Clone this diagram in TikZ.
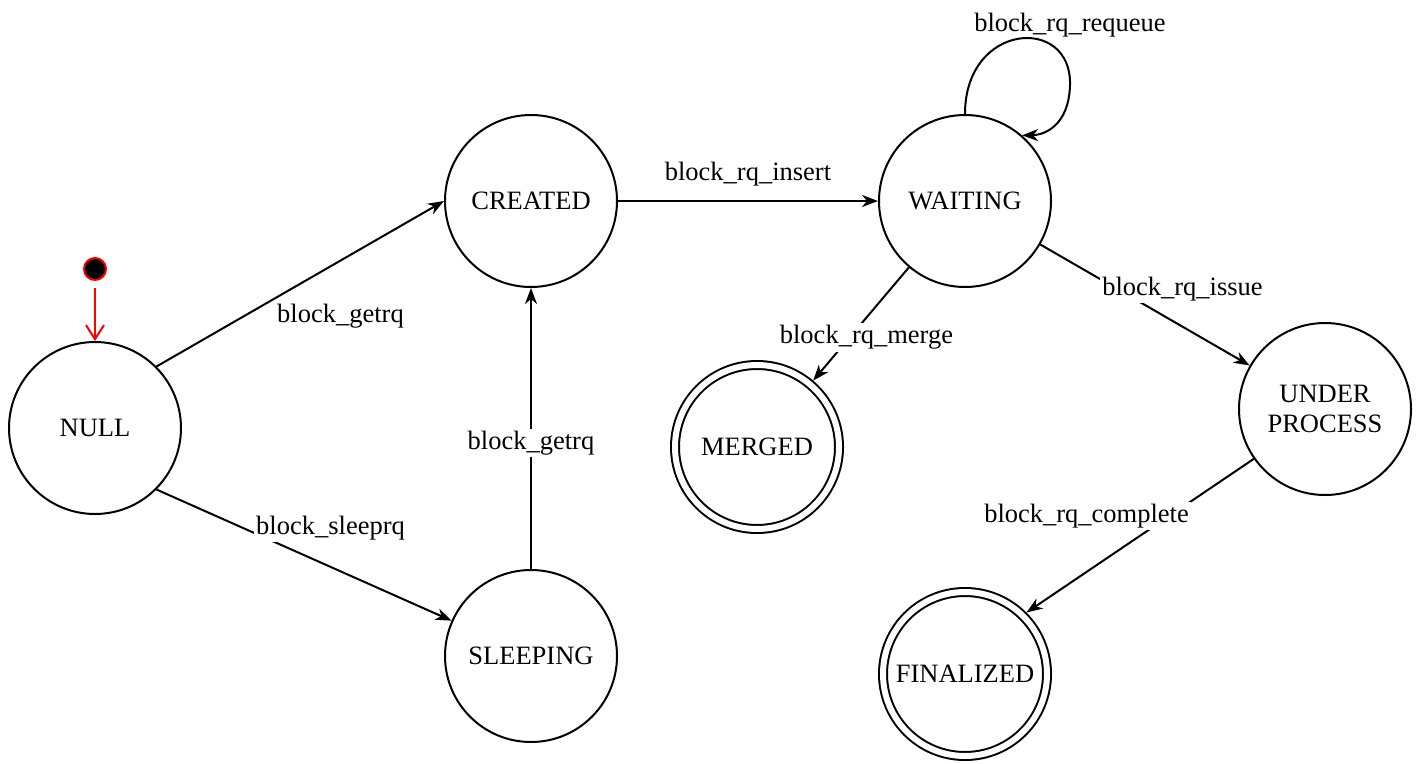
\documentclass[tikz,border=0pt]{standalone}
\usepackage{fontspec}
\setmainfont{Liberation Serif}
\usetikzlibrary{arrows.meta}

\begin{document}
\begin{tikzpicture}[x=1pt, y=-1pt,
  state/.style={circle, draw, line width=2pt, minimum size=172pt, inner sep=0pt,
    align=center, font=\fontsize{26.5}{30}\selectfont},
  final/.style={state, double, double distance=6pt, minimum size=164pt, outer sep=5pt},
  initdot/.style={circle, fill=black, draw=red, line width=2pt, minimum size=22pt, inner sep=0pt},
  trans/.style={line width=2pt, -{Stealth[length=16pt, width=12pt, inset=5pt]}},
  initarrow/.style={line width=2pt, red, -{Straight Barb[length=14pt, width=18pt]}},
  lbl/.style={fill=white, inner sep=2pt, font=\fontsize{26.5}{30}\selectfont},
]
  \useasboundingbox[fill=white] (0,0) rectangle (1418,763);

  % states
  \node[initdot] (init) at (95,269) {};
  \node[state] (null) at (95,428) {NULL};
  \node[state] (created) at (531,201) {CREATED};
  \node[state] (sleeping) at (531,656) {SLEEPING};
  \node[state] (waiting) at (965,201) {WAITING};
  \node[final] (merged) at (757,447) {MERGED};
  \node[state] (under) at (1325,409) {UNDER\\PROCESS};
  \node[final] (finalized) at (965,674) {FINALIZED};

  % initial transition
  \draw[initarrow, shorten <=7pt] (init) -- (null.north);

  % transitions
  \draw[trans] (null.north east) -- (created.west)
    node[lbl, fill=none, pos=0.64, yshift=-55.5pt] {block\_getrq};
  \draw[trans] (null.south east) -- (sleeping)
    node[lbl, pos=0.59, yshift=38.5pt] {block\_sleeprq};
  \draw[trans] (sleeping.north) -- (created.south)
    node[lbl, pos=0.454, yshift=-1.5pt] {block\_getrq};
  \draw[trans] (created.east) -- (waiting.west)
    node[lbl, fill=none, pos=0.5, yshift=27pt] {block\_rq\_insert};
  \draw[trans] (waiting.north) .. controls (965,22) and (1072,15) .. (1070,85)
    node[lbl, fill=none, pos=1, yshift=60pt] {block\_rq\_requeue}
    .. controls (1069,125) and (1045,135) .. (waiting.49);
  \draw[trans] (waiting) -- (merged)
    node[lbl, pos=0.606, xshift=15.6pt, yshift=-1.5pt] {block\_rq\_merge};
  \draw[trans] (waiting) -- (under)
    node[lbl, pos=0.4, xshift=58.4pt, yshift=4pt] {block\_rq\_issue};
  \draw[trans] (under.215) -- (finalized.45)
    node[lbl, pos=0.36, xshift=-85.4pt, yshift=-1.5pt] {block\_rq\_complete};
\end{tikzpicture}
\end{document}
